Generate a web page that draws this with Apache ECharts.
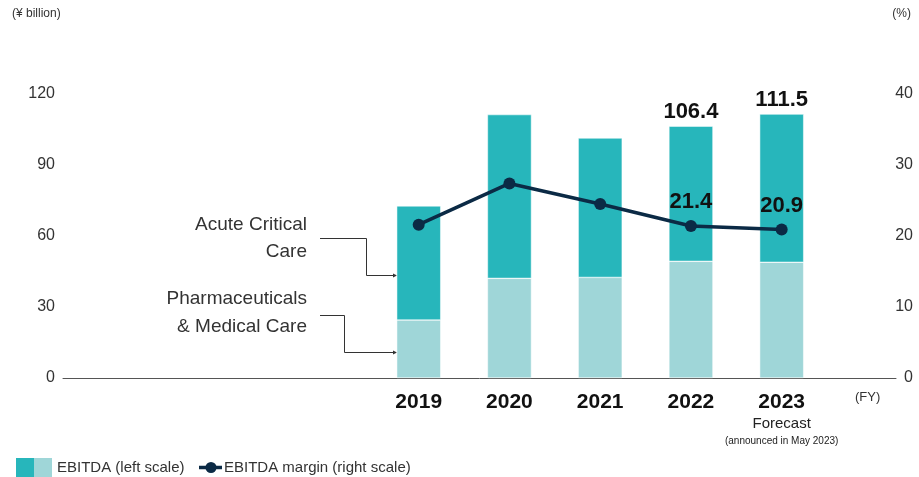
<!DOCTYPE html>
<html>
<head>
<meta charset="utf-8">
<script src="https://cdn.jsdelivr.net/npm/echarts@6/dist/echarts.min.js"></script>
<style>
  html, body { margin: 0; padding: 0; background: #fff; }
  #main { width: 919px; height: 477px; }
</style>
</head>
<body>
<div id="main"></div>
<script>
// EBITDA by segment (¥ billion) and EBITDA margin (%)
var years = [2019, 2020, 2021, 2022, 2023];
var pharma = [24.5, 42.1, 42.5, 49.3, 48.9];   // Pharmaceuticals & Medical Care
var acute = [48.2, 69.2, 58.9, 57.1, 62.6];    // Acute Critical Care
var margin = [21.6, 27.4, 24.5, 21.4, 20.9];   // EBITDA margin
var labelledYears = [2022, 2023];
var forecastYear = 2023;
var leftTicks = { max: 120, step: 30 };
var rightTicks = { max: 40, step: 10 };

var darkTeal = '#27b6bb';
var lightTeal = '#9fd6d8';
var navy = '#0b2a45';
var font = '"Liberation Sans", Arial, sans-serif';

// value first, year second -> the value column is the one that gets stacked
function pairs(vals) {
    return years.map(function (y, i) { return [vals[i], y]; });
}

var myChart = echarts.init(document.getElementById('main'));

var option = {
    animation: false,
    textStyle: { fontFamily: font },
    grid: { left: 63, right: 23, top: 94, bottom: 99 },
    xAxis: {
        type: 'value',
        min: 2015.08,
        max: 2024.26,
        splitLine: { show: false },
        axisTick: { show: false },
        axisLine: { show: true, lineStyle: { color: '#555', width: 1 } },
        axisLabel: {
            customValues: years,
            margin: 13,
            formatter: function (v) {
                if (v === forecastYear) {
                    return '{y|' + v + '}\n{f|Forecast}\n{s|(announced in May 2023)}';
                }
                return '{y|' + v + '}';
            },
            rich: {
                y: { fontSize: 21, fontWeight: 'bold', color: '#111', lineHeight: 22, fontFamily: font },
                f: { fontSize: 15, color: '#222', lineHeight: 22, fontFamily: font },
                s: { fontSize: 10, color: '#222', lineHeight: 12, fontFamily: font }
            }
        }
    },
    yAxis: [
        {
            type: 'value', min: 0, max: leftTicks.max, interval: leftTicks.step,
            splitLine: { show: false },
            axisLine: { show: false }, axisTick: { show: false },
            axisLabel: { fontSize: 16, color: '#333', margin: 8 }
        },
        {
            type: 'value', position: 'right', min: 0, max: rightTicks.max, interval: rightTicks.step,
            splitLine: { show: false },
            axisLine: { show: false }, axisTick: { show: false },
            axisLabel: { fontSize: 16, color: '#333', margin: 17, align: 'right' }
        }
    ],
    series: [
        {
            name: 'Pharmaceuticals & Medical Care',
            type: 'bar',
            stack: 'ebitda',
            barWidth: 44,
            encode: { x: 1, y: 0 },
            data: pairs(pharma),
            itemStyle: { color: lightTeal, borderColor: '#fff', borderWidth: 0.5 }
        },
        {
            name: 'Acute Critical Care',
            type: 'bar',
            stack: 'ebitda',
            barWidth: 44,
            encode: { x: 1, y: 0 },
            data: pairs(acute),
            itemStyle: { color: darkTeal, borderColor: '#fff', borderWidth: 0.5 },
            label: {
                show: true,
                position: 'top',
                distance: 3,
                fontSize: 22,
                fontWeight: 'bold',
                color: '#111',
                formatter: function (p) {
                    var i = p.dataIndex;
                    if (labelledYears.indexOf(years[i]) < 0) return '';
                    return (pharma[i] + acute[i]).toFixed(1);
                }
            }
        },
        {
            name: 'EBITDA margin',
            type: 'line',
            yAxisIndex: 1,
            z: 5,
            symbol: 'circle',
            symbolSize: 12,
            encode: { x: 1, y: 0 },
            data: pairs(margin),
            lineStyle: { color: navy, width: 3.5 },
            itemStyle: { color: navy },
            label: {
                show: true,
                position: 'top',
                distance: 7,
                fontSize: 22,
                fontWeight: 'bold',
                color: '#111',
                formatter: function (p) {
                    var i = p.dataIndex;
                    if (labelledYears.indexOf(years[i]) < 0) return '';
                    return margin[i].toFixed(1);
                }
            }
        }
    ],
    graphic: [
        // unit captions
        { type: 'text', left: 12, top: 8, style: { text: '(¥ billion)', fontSize: 12, fill: '#333', fontFamily: font } },
        { type: 'text', right: 8, top: 8, style: { text: '(%)', fontSize: 12, fill: '#333', fontFamily: font } },
        { type: 'text', left: 855, top: 391, style: { text: '(FY)', fontSize: 13, fill: '#333', fontFamily: font } },
        // segment annotations
        { type: 'text', x: 307, y: 225, style: { text: 'Acute Critical', fontSize: 19, fill: '#333', align: 'right', verticalAlign: 'middle', fontFamily: font } },
        { type: 'text', x: 307, y: 252, style: { text: 'Care', fontSize: 19, fill: '#333', align: 'right', verticalAlign: 'middle', fontFamily: font } },
        { type: 'text', x: 307, y: 299, style: { text: 'Pharmaceuticals', fontSize: 19, fill: '#333', align: 'right', verticalAlign: 'middle', fontFamily: font } },
        { type: 'text', x: 307, y: 327, style: { text: '& Medical Care', fontSize: 19, fill: '#333', align: 'right', verticalAlign: 'middle', fontFamily: font } },
        { type: 'polyline', shape: { points: [[320, 238.5], [366.5, 238.5], [366.5, 275.5], [396, 275.5]] }, style: { stroke: '#333', lineWidth: 1, fill: null } },
        { type: 'polyline', shape: { points: [[320, 315.5], [344.5, 315.5], [344.5, 352.5], [396, 352.5]] }, style: { stroke: '#333', lineWidth: 1, fill: null } },
        { type: 'polygon', shape: { points: [[393, 273.5], [397, 275.5], [393, 277.5]] }, style: { fill: '#333' } },
        { type: 'polygon', shape: { points: [[393, 350.5], [397, 352.5], [393, 354.5]] }, style: { fill: '#333' } },
        // legend
        { type: 'rect', shape: { x: 16, y: 458, width: 18, height: 19 }, style: { fill: darkTeal } },
        { type: 'rect', shape: { x: 34, y: 458, width: 18, height: 19 }, style: { fill: lightTeal } },
        { type: 'text', x: 57, y: 467.5, style: { text: 'EBITDA (left scale)', fontSize: 15, fill: '#333', verticalAlign: 'middle', fontFamily: font } },
        { type: 'line', shape: { x1: 199, y1: 467.5, x2: 222, y2: 467.5 }, style: { stroke: navy, lineWidth: 3.5 } },
        { type: 'circle', shape: { cx: 211, cy: 467.5, r: 5.5 }, style: { fill: navy } },
        { type: 'text', x: 224, y: 467.5, style: { text: 'EBITDA margin (right scale)', fontSize: 15, fill: '#333', verticalAlign: 'middle', fontFamily: font } }
    ]
};

myChart.setOption(option);
</script>
</body>
</html>
